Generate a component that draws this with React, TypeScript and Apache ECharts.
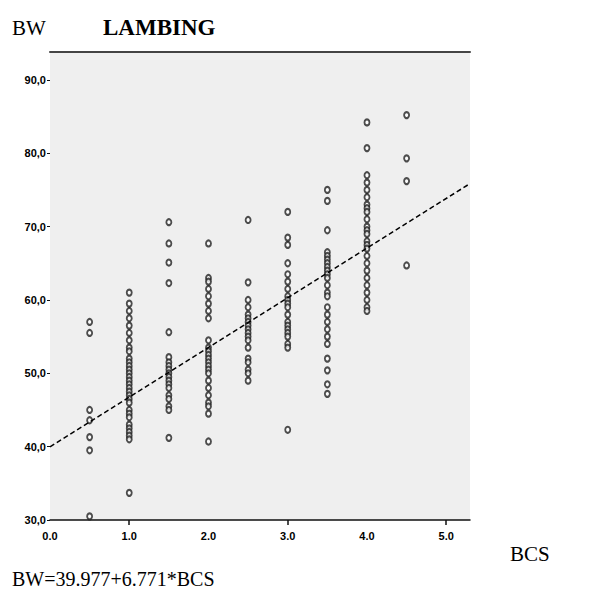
import React, { useEffect, useRef } from "react";
import * as echarts from "echarts";

const bcsLevels = [0.5, 1.0, 1.5, 2.0, 2.5, 3.0, 3.5, 4.0, 4.5];
const bw05 = [57.0, 55.5, 45.0, 43.6, 41.3, 39.5, 30.5];
const bw10 = [61.0, 59.5, 58.5, 57.5, 56.5, 55.5, 54.5, 53.5, 53.0, 52.0, 51.5, 51.0, 50.5, 50.0, 49.5, 49.0, 48.5, 48.0, 47.5, 47.0, 46.5, 46.0, 45.0, 44.5, 44.0, 43.0, 42.5, 42.0, 41.5, 41.0, 33.7];
const bw15 = [70.6, 67.7, 65.1, 62.3, 55.6, 52.2, 51.5, 51.0, 50.5, 50.0, 49.5, 49.0, 48.5, 48.0, 47.0, 46.5, 45.5, 45.0, 41.2];
const bw20 = [67.7, 63.0, 62.5, 61.5, 60.5, 59.5, 58.5, 57.5, 54.5, 53.5, 53.0, 52.5, 52.0, 51.5, 51.0, 50.5, 50.0, 49.0, 48.0, 47.0, 46.0, 45.5, 44.5, 40.7];
const bw25 = [70.9, 62.4, 60.0, 59.0, 58.0, 57.5, 57.0, 56.5, 56.0, 55.5, 55.0, 54.5, 53.5, 52.0, 51.5, 50.5, 50.0, 49.0];
const bw30 = [72.0, 68.5, 67.5, 65.0, 63.5, 62.5, 61.5, 60.5, 60.0, 59.5, 59.0, 58.0, 57.0, 56.5, 56.0, 55.5, 55.0, 54.0, 53.5, 42.3];
const bw35 = [75.0, 73.5, 69.5, 66.5, 66.0, 65.5, 65.0, 64.5, 64.0, 63.5, 63.0, 62.0, 61.0, 60.5, 59.0, 58.0, 57.0, 56.0, 55.0, 54.0, 52.0, 50.4, 48.5, 47.2];
const bw40 = [84.2, 80.7, 77.0, 76.0, 75.0, 74.0, 73.0, 72.5, 72.0, 71.0, 70.0, 69.5, 69.0, 68.0, 67.5, 67.0, 66.0, 65.0, 64.0, 63.0, 62.0, 61.0, 60.0, 59.0, 58.5];
const bw45 = [85.2, 79.3, 76.2, 64.7];
const bwByLevel = [bw05, bw10, bw15, bw20, bw25, bw30, bw35, bw40, bw45];

const intercept = 39.977;
const slope = 6.771;
const xMin = 0;
const xMax = 5.3;
const yMin = 30;
const yMax = 93.8;
const yTicks = [30, 40, 50, 60, 70, 80, 90];
const xTickLabels = [0, 1, 2, 3, 4, 5];
const xTickMarks = [1, 3, 5];

export default function App() {
  const ref = useRef<HTMLDivElement>(null);
  useEffect(() => {
    if (!ref.current) return;
    const chart = echarts.init(ref.current, null, { renderer: "svg" });
    const points: number[][] = [];
    bcsLevels.forEach((x, i) => bwByLevel[i].forEach((y) => points.push([x, y])));
    const serif = "'Liberation Serif', 'Times New Roman', serif";
    const sans = "Arial, 'Liberation Sans', sans-serif";
    chart.setOption({
      animation: false,
      grid: {
        left: 50,
        right: 140,
        top: 52,
        bottom: 69,
        show: true,
        backgroundColor: "#efefef",
        borderWidth: 0,
      },
      xAxis: [
        {
          type: "value",
          min: xMin,
          max: xMax,
          interval: 1,
          splitLine: { show: false },
          axisLine: { show: true, onZero: false, lineStyle: { color: "#111", width: 1.5 } },
          axisTick: { show: true, length: 5, customValues: xTickMarks, lineStyle: { color: "#111", width: 1.5 } },
          axisLabel: {
            customValues: xTickLabels,
            formatter: (v: number) => v.toFixed(1),
            color: "#000",
            fontFamily: sans,
            fontWeight: "bold",
            fontSize: 11,
            margin: 10,
          },
        },
        {
          type: "value",
          position: "top",
          min: xMin,
          max: xMax,
          axisLine: { show: true, onZero: false, lineStyle: { color: "#444", width: 2 } },
          axisTick: { show: false },
          axisLabel: { show: false },
          splitLine: { show: false },
        },
      ],
      yAxis: {
        type: "value",
        min: yMin,
        max: yMax,
        interval: 10,
        splitLine: { show: false },
        axisLine: { show: false },
        axisTick: { show: true, length: 3, customValues: yTicks, lineStyle: { color: "#111" } },
        axisLabel: {
          customValues: yTicks,
          formatter: (v: number) => v.toFixed(1).replace(".", ","),
          color: "#000",
          fontFamily: sans,
          fontWeight: "bold",
          fontSize: 11,
          margin: 4,
        },
      },
      series: [
        {
          type: "scatter",
          data: points,
          symbol: "emptyCircle",
          symbolSize: [5, 6],
          itemStyle: { color: "#222", borderColor: "#222", borderWidth: 1 },
          z: 3,
        },
        {
          type: "line",
          data: [
            [xMin, intercept + slope * xMin],
            [xMax, intercept + slope * xMax],
          ],
          symbol: "none",
          lineStyle: { color: "#000", width: 1.5, type: [5, 3] },
          z: 4,
        },
      ],
      graphic: [
        { type: "text", left: 12, top: 17, style: { text: "BW", font: `21px ${serif}`, fill: "#000" } },
        { type: "text", left: 103, top: 16, style: { text: "LAMBING", font: `bold 23px ${serif}`, fill: "#000" } },
        { type: "text", left: 510, top: 543, style: { text: "BCS", font: `21px ${serif}`, fill: "#000" } },
        { type: "text", left: 12, top: 569, style: { text: "BW=39.977+6.771*BCS", font: `20px ${serif}`, fill: "#000" } },
      ],
    });
    return () => chart.dispose();
  }, []);
  return (
    <div
      ref={ref}
      style={{ position: "absolute", left: 0, top: 0, width: 610, height: 589, background: "#fff" }}
    />
  );
}
